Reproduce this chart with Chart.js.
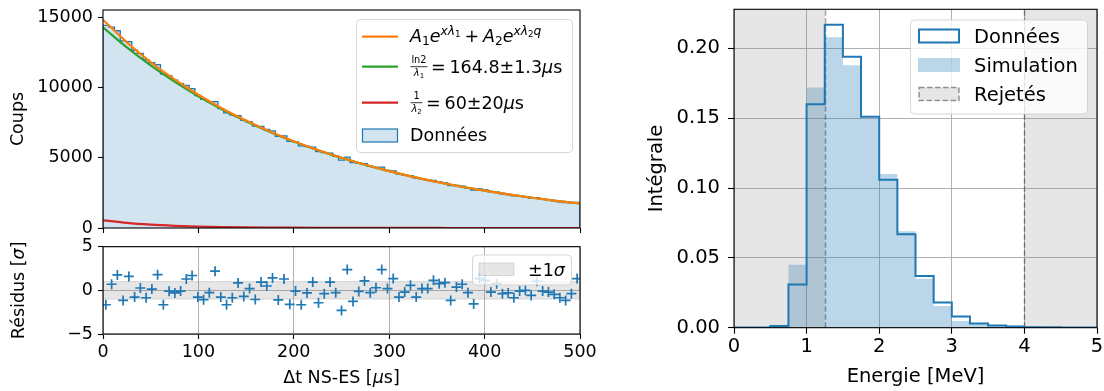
<!DOCTYPE html>
<html>
<head>
<meta charset="utf-8">
<script src="https://cdn.jsdelivr.net/npm/chart.js@4.4.1/dist/chart.umd.min.js"></script>
<style>
  html, body { margin: 0; padding: 0; background: #fff; }
  #wrap { position: relative; width: 1104px; height: 391px; overflow: hidden; }
  canvas { position: absolute; }
</style>
</head>
<body>
<div id="wrap">
  <canvas id="decay"  width="600" height="236" style="left:0;top:0"></canvas>
  <canvas id="resid"  width="600" height="153" style="left:0;top:238px"></canvas>
  <canvas id="energy" width="484" height="391" style="left:620px;top:0"></canvas>
</div>
<script>
// ── Data ─────────────────────────────────────
const T_MAX = 500;            // µs, histogram range
const counts = [
  14443, 14323, 14060, 13341, 13292, 12670, 12445, 11992, 11780, 11646,
  10978, 10849, 10545, 10292, 10162, 9940, 9445, 9171, 9010, 9010,
  8507, 8208, 8068, 8013, 7673, 7556, 7257, 7240, 7021, 6919,
  6540, 6567, 6172, 6134, 5857, 5811, 5759, 5438, 5376, 5336,
  5116, 4844, 5047, 4670, 4630, 4595, 4390, 4318, 4344, 4098,
  4068, 3834, 3773, 3725, 3551, 3519, 3432, 3399, 3294, 3219,
  3025, 3033, 2975, 2849, 2709, 2791, 2712, 2577, 2561, 2440,
  2382, 2296, 2275, 2222, 2139, 2160, 2055, 1999, 1938, 1872,
  1811, 1798, 1826,
];
const residuals = [
  -1.65, 0.7, 1.77, -1.15, 1.6, -0.77, 0.27, -0.85, 0.15, 1.8,
  -1.65, -0.1, -0.3, -0.08, 1.3, 1.7, -0.77, -1.07, -0.27, 2.2,
  -0.77, -1.65, -0.85, 0.85, -0.7, 0.2, -1.05, 0.95, 0.5, 1.42,
  -1.1, 1.3, -1.6, -0.08, -1.65, -0.3, 0.95, -1.42, -0.38, 0.95,
  -0.27, -2.3, 2.38, -1.27, -0.12, 1.08, -0.27, 0.3, 2.38, 0.2,
  1.35, -0.77, -0.2, 0.58, -0.77, 0.2, 0.2, 1.15, 0.77, 0.88,
  -1.15, 0.38, 0.7, -0.27, -1.55, 1.35, 1.15, -0.2, 0.77, -0.38,
  -0.3, -0.85, -0.08, 0, -0.58, 1.04, -0.08, -0.2, -0.46, -0.85,
  -1.15, -0.38, 1.35,
];
const fitT    = [0, 25, 50, 75, 100, 125, 150, 175, 200, 225, 250, 275, 300, 325, 350, 375, 400, 425, 450, 475, 500];
const fitSum  = [14850, 13236, 11828, 10590, 9495, 8522, 7655, 6881, 6187, 5565, 5007, 4505, 4054, 3648, 3284, 2956, 2661, 2395, 2155, 1940, 1747];
const fitSlow = [14300, 12873, 11589, 10432, 9391, 8454, 7610, 6851, 6167, 5552, 4998, 4499, 4050, 3646, 3282, 2955, 2660, 2394, 2155, 1940, 1747];
const fitFast = [550, 363, 239, 158, 104, 68, 45, 30, 20, 13, 9, 6, 4, 2, 2, 1, 1, 0, 0, 0, 0];
const sigmaBand = [-1, 1];
const countTicks = [0, 5000, 10000, 15000];
const timeTicks  = [0, 100, 200, 300, 400, 500];
const residTicks = [-5, 0, 5];

const energyEdges = [0, 0.25, 0.5, 0.75, 1, 1.25, 1.5, 1.75, 2, 2.25, 2.5, 2.75, 3, 3.25, 3.5, 3.75, 4, 4.25, 4.5, 4.75, 5];
const dataFrac = [0.0002, 0.0002, 0.0012, 0.031, 0.160, 0.217, 0.194, 0.151, 0.106, 0.067, 0.037, 0.018, 0.008, 0.003, 0.0016, 0.0008, 0.0004, 0.0003, 0.0002, 0.0002];
const simFrac  = [0, 0, 0.0008, 0.045, 0.172, 0.208, 0.188, 0.150, 0.110, 0.069, 0.035, 0.0155, 0.0048, 0.0025, 0.0012, 0.0008, 0.0008, 0.0003, 0.0002, 0.0001];
const rejected = [[0, 1.25], [4.0, 5]];
const energyTicks = [0, 1, 2, 3, 4, 5];
const fracTicks   = [0, 0.05, 0.10, 0.15, 0.20];

// ── Styling ──────────────────────────────────
const BLUE = '#1f77b4', ORANGE = '#ff7f0e', GREEN = '#2ca02c', RED = '#d62728';
const GRID = '#b0b0b0';
const FS_L = 17.5, FS_R = 19.5;
const FONT = '"DejaVu Sans"';

Chart.defaults.font.family = FONT;
Chart.defaults.color = '#000';
Chart.defaults.animation = false;

// step outline from bin edges + values (each value covers the bin right of its edge)
function stepPoints(edges, vals, closeDown) {
  const pts = [{ x: edges[0], y: 0 }];
  vals.forEach((v, i) => pts.push({ x: edges[i], y: v }));
  pts.push({ x: edges[edges.length - 1], y: vals[vals.length - 1] });
  if (closeDown) pts.push({ x: edges[edges.length - 1], y: 0 });
  return pts;
}
const fixedTicks = list => s => { s.ticks = list.map(v => ({ value: v })); };

const tEdges = counts.map((_, i) => i * T_MAX / counts.length).concat([T_MAX]);
const tCenters = counts.map((_, i) => (i + 0.5) * T_MAX / counts.length);

// ── text helpers (mathtext-ish) ──────────────
function partsWidth(ctx, parts, fs) {
  let w = 0;
  for (const p of parts) {
    if (p.gap) { w += p.gap * fs; continue; }
    ctx.font = (p.it ? 'italic ' : '') + fs * (p.sc || 1) + 'px ' + FONT;
    w += ctx.measureText(p.t).width;
  }
  return w;
}
function rich(ctx, x, y, parts, fs) {
  let cx = x;
  ctx.textBaseline = 'alphabetic';
  ctx.textAlign = 'left';
  for (const p of parts) {
    if (p.gap) { cx += p.gap * fs; continue; }
    ctx.font = (p.it ? 'italic ' : '') + fs * (p.sc || 1) + 'px ' + FONT;
    ctx.fillText(p.t, cx, y + (p.dy || 0) * fs);
    cx += ctx.measureText(p.t).width;
  }
  return cx;
}
// centred label, optionally rotated (used for axis titles with italic symbols)
function richCentered(ctx, cx, cy, parts, fs, rot) {
  ctx.save();
  ctx.fillStyle = '#000';
  ctx.translate(cx, cy);
  if (rot) ctx.rotate(rot);
  const w = partsWidth(ctx, parts, fs);
  rich(ctx, -w / 2, 0.36 * fs, parts, fs);
  ctx.restore();
}
function frac(ctx, x, yBar, num, den, fs) {
  const wn = partsWidth(ctx, num, fs), wd = partsWidth(ctx, den, fs);
  const w = Math.max(wn, wd) + 0.1 * fs;
  ctx.save();
  ctx.strokeStyle = '#000'; ctx.lineWidth = 0.8;
  ctx.beginPath(); ctx.moveTo(x, yBar); ctx.lineTo(x + w, yBar); ctx.stroke();
  ctx.restore();
  rich(ctx, x + (w - wn) / 2, yBar - 0.22 * fs, num, fs);
  rich(ctx, x + (w - wd) / 2, yBar + 0.52 * fs, den, fs);
  return x + w;
}
function legendBox(ctx, x0, y0, x1, y1) {
  const r = 4;
  ctx.save();
  ctx.beginPath();
  ctx.moveTo(x0 + r, y0); ctx.lineTo(x1 - r, y0); ctx.quadraticCurveTo(x1, y0, x1, y0 + r);
  ctx.lineTo(x1, y1 - r); ctx.quadraticCurveTo(x1, y1, x1 - r, y1);
  ctx.lineTo(x0 + r, y1); ctx.quadraticCurveTo(x0, y1, x0, y1 - r);
  ctx.lineTo(x0, y0 + r); ctx.quadraticCurveTo(x0, y0, x0 + r, y0);
  ctx.closePath();
  ctx.fillStyle = 'rgba(255,255,255,0.8)'; ctx.fill();
  ctx.strokeStyle = 'rgba(204,204,204,0.8)'; ctx.lineWidth = 1; ctx.stroke();
  ctx.restore();
}

const framePlugin = {
  id: 'frame',
  afterDatasetsDraw(chart) {
    const { ctx, chartArea: a } = chart;
    ctx.save();
    ctx.strokeStyle = '#000'; ctx.lineWidth = 1.1;
    ctx.strokeRect(a.left, a.top, a.right - a.left, a.bottom - a.top);
    ctx.restore();
  },
};

function fixPad(s) { s.paddingTop = 0; s.paddingBottom = 0; s.paddingLeft = 0; s.paddingRight = 0; }
const tickGrid = (onArea, len) => ({
  drawOnChartArea: onArea, color: GRID, lineWidth: 1,
  drawTicks: true, tickLength: len, tickColor: '#000', tickWidth: 1.1,
});

// ── Decay histogram + fits ───────────────────
new Chart(document.getElementById('decay'), {
  type: 'line',
  data: {
    datasets: [
      { label: 'sum', data: fitT.map((t, i) => ({ x: t, y: fitSum[i] })), borderColor: ORANGE, borderWidth: 2.2, cubicInterpolationMode: 'monotone', order: 0 },
      { label: 'slow', data: fitT.map((t, i) => ({ x: t, y: fitSlow[i] })), borderColor: GREEN, borderWidth: 2.2, cubicInterpolationMode: 'monotone', order: 1 },
      { label: 'fast', data: fitT.map((t, i) => ({ x: t, y: fitFast[i] })), borderColor: RED, borderWidth: 2.2, cubicInterpolationMode: 'monotone', order: 2 },
      { label: 'Données', data: stepPoints(tEdges, counts, true), stepped: 'before', borderColor: BLUE, borderWidth: 1.3,
        backgroundColor: 'rgba(31,119,180,0.2)', fill: 'origin', order: 3 },
    ],
  },
  options: {
    responsive: false, events: [],
    layout: { padding: { top: 10, right: 20, left: 0, bottom: 0 } },
    elements: { point: { radius: 0 } },
    plugins: { legend: { display: false }, tooltip: { enabled: false } },
    scales: {
      x: {
        type: 'linear', min: 0, max: T_MAX,
        ticks: { display: false },
        afterBuildTicks: fixedTicks(timeTicks),
        grid: tickGrid(false, 5), border: { display: false },
        afterFit: s => { s.height = 8; fixPad(s); },
      },
      y: {
        min: 0, max: 15540,
        ticks: { padding: 5, font: { size: FS_L }, callback: v => String(v) },
        afterBuildTicks: fixedTicks(countTicks),
        grid: tickGrid(false, 5), border: { display: false },
        title: { display: true, text: 'Coups', font: { size: FS_L }, padding: { top: 7.5, bottom: 0 } },
        afterFit: s => { s.width = 103; fixPad(s); },
      },
    },
  },
  plugins: [framePlugin, {
    id: 'decayLegend',
    afterDraw(chart) {
      const ctx = chart.ctx, fs = FS_L;
      legendBox(ctx, 356.5, 19.5, 572.5, 152.5);
      ctx.save();
      [[ORANGE, 36.7], [GREEN, 66.7], [RED, 102.7]].forEach(([c, y]) => {
        ctx.strokeStyle = c; ctx.lineWidth = 2.2;
        ctx.beginPath(); ctx.moveTo(362, y); ctx.lineTo(398, y); ctx.stroke();
      });
      ctx.fillStyle = 'rgba(31,119,180,0.2)';
      ctx.fillRect(362.5, 129, 35, 13);
      ctx.strokeStyle = BLUE; ctx.lineWidth = 1.2;
      ctx.strokeRect(362.5, 129, 35, 13);
      ctx.fillStyle = '#000';
      const sub = t => ({ t, sc: 0.7, dy: 0.18 });
      const sup = (t, it) => ({ t, it, sc: 0.7, dy: -0.42 });
      const supsub = t => ({ t, sc: 0.5, dy: -0.3 });
      rich(ctx, 410, 42, [
        { t: 'A', it: true }, sub('1'), { t: 'e', it: true }, sup('x', true), sup('λ', true), supsub('1'),
        { gap: 0.22 }, { t: '+' }, { gap: 0.22 },
        { t: 'A', it: true }, sub('2'), { t: 'e', it: true }, sup('x', true), sup('λ', true), supsub('2'), sup('q', true),
      ], fs);
      let x = frac(ctx, 410.5, 66.7, [{ t: 'ln2', sc: 0.56 }], [{ t: 'λ', it: true, sc: 0.56 }, { t: '1', sc: 0.4, dy: 0.1 }], fs);
      rich(ctx, x + 0.2 * fs, 72.7, [{ t: '=' }, { gap: 0.22 }, { t: '164.8±1.3' }, { t: 'μ', it: true }, { t: 's' }], fs);
      x = frac(ctx, 410.5, 102.7, [{ t: '1', sc: 0.56 }], [{ t: 'λ', it: true, sc: 0.56 }, { t: '2', sc: 0.4, dy: 0.1 }], fs);
      rich(ctx, x + 0.2 * fs, 108.7, [{ t: '=' }, { gap: 0.22 }, { t: '60±20' }, { t: 'μ', it: true }, { t: 's' }], fs);
      rich(ctx, 410, 141, [{ t: 'Données' }], fs);
      ctx.restore();
    },
  }],
});

// ── Residuals ────────────────────────────────
new Chart(document.getElementById('resid'), {
  type: 'line',
  data: {
    datasets: [
      { label: 'res', data: tCenters.map((t, i) => ({ x: t, y: residuals[i] })), showLine: false,
        pointStyle: 'cross', pointRadius: 5, pointBorderWidth: 1.7, pointBorderColor: BLUE, borderColor: BLUE, order: 0 },
      { label: 'up', data: [{ x: 0, y: sigmaBand[1] }, { x: T_MAX, y: sigmaBand[1] }], fill: '+1',
        borderColor: 'rgba(128,128,128,0.25)', borderWidth: 1, backgroundColor: 'rgba(128,128,128,0.2)', pointRadius: 0, order: 1 },
      { label: 'down', data: [{ x: 0, y: sigmaBand[0] }, { x: T_MAX, y: sigmaBand[0] }],
        borderColor: 'rgba(128,128,128,0.25)', borderWidth: 1, pointRadius: 0, order: 2 },
    ],
  },
  options: {
    responsive: false, events: [],
    layout: { padding: { top: 8.7, right: 20, left: 0, bottom: 0 } },
    plugins: { legend: { display: false }, tooltip: { enabled: false } },
    scales: {
      x: {
        type: 'linear', min: 0, max: T_MAX,
        ticks: { padding: 2.5, font: { size: FS_L }, maxRotation: 0, callback: v => String(v) },
        afterBuildTicks: fixedTicks(timeTicks),
        grid: tickGrid(true, 5), border: { display: false },
        afterFit: s => { s.height = 57; fixPad(s); },
      },
      y: {
        min: -5, max: 5,
        ticks: { padding: 5, font: { size: FS_L }, callback: v => (v < 0 ? '\u2212' + Math.abs(v) : String(v)) },
        afterBuildTicks: fixedTicks(residTicks),
        grid: tickGrid(true, 5), border: { display: false },
        afterFit: s => { s.width = 103; fixPad(s); },
      },
    },
  },
  plugins: [framePlugin, {
    id: 'residLegend',
    afterDraw(chart) {
      const ctx = chart.ctx, a = chart.chartArea;
      legendBox(ctx, 472.5, 17, 571.5, 47);
      ctx.save();
      ctx.fillStyle = 'rgba(128,128,128,0.2)';
      ctx.fillRect(479, 25, 35, 12.5);
      ctx.strokeStyle = 'rgba(128,128,128,0.25)'; ctx.lineWidth = 1;
      ctx.strokeRect(479, 25, 35, 12.5);
      ctx.fillStyle = '#000';
      rich(ctx, 528, 38, [{ t: '±1' }, { t: 'σ', it: true }], FS_L);
      ctx.restore();
      // axis titles (italic Greek like mathtext)
      richCentered(ctx, (a.left + a.right) / 2, 139, [{ t: 'Δt NS-ES [' }, { t: 'μ', it: true }, { t: 's]' }], FS_L);
      richCentered(ctx, 18, (a.top + a.bottom) / 2, [{ t: 'Résidus [' }, { t: 'σ', it: true }, { t: ']' }], FS_L, -Math.PI / 2);
    },
  }],
});

// ── Energy spectrum ──────────────────────────
new Chart(document.getElementById('energy'), {
  type: 'line',
  data: {
    datasets: [
      { label: 'Simulation', data: stepPoints(energyEdges, simFrac, true), stepped: 'before', borderWidth: 0,
        borderColor: 'rgba(0,0,0,0)', backgroundColor: 'rgba(31,119,180,0.3)', fill: 'origin', order: 2 },
      { label: 'Données', data: stepPoints(energyEdges, dataFrac, false), stepped: 'before', borderColor: BLUE,
        borderWidth: 2, fill: false, order: 0 },
    ],
  },
  options: {
    responsive: false, events: [],
    layout: { padding: { top: 9.3, right: 7, left: 0, bottom: 0 } },
    elements: { point: { radius: 0 } },
    plugins: { legend: { display: false }, tooltip: { enabled: false } },
    scales: {
      x: {
        type: 'linear', min: 0, max: 5,
        ticks: { padding: 2, font: { size: FS_R }, maxRotation: 0, callback: v => String(v) },
        afterBuildTicks: fixedTicks(energyTicks),
        grid: tickGrid(true, 6), border: { display: false },
        title: { display: true, text: 'Energie [MeV]', font: { size: FS_R }, padding: { top: 0, bottom: 2.3 } },
        afterFit: s => { s.height = 63.3; fixPad(s); },
      },
      y: {
        min: 0, max: 0.228,
        ticks: { padding: 8, font: { size: FS_R }, callback: v => v.toFixed(2) },
        afterBuildTicks: fixedTicks(fracTicks),
        grid: tickGrid(true, 6), border: { display: false },
        title: { display: true, text: 'Intégrale', font: { size: FS_R }, padding: { top: 25, bottom: 0 } },
        afterFit: s => { s.width = 114; fixPad(s); },
      },
    },
  },
  plugins: [framePlugin, {
    id: 'rejectSpan',
    afterDatasetDraw(chart, args) {
      if (chart.data.datasets[args.index].label !== 'Simulation') return;
      const { ctx, chartArea: a, scales: { x } } = chart;
      ctx.save();
      rejected.forEach(([lo, hi]) => {
        const x0 = x.getPixelForValue(lo), x1 = x.getPixelForValue(hi);
        ctx.fillStyle = 'rgba(128,128,128,0.2)';
        ctx.fillRect(x0, a.top, x1 - x0, a.bottom - a.top);
      });
      ctx.strokeStyle = 'rgba(0,0,0,0.36)'; ctx.lineWidth = 1.5; ctx.setLineDash([5.5, 2.5]);
      [rejected[0][1], rejected[1][0]].forEach(v => {
        const px = Math.round(x.getPixelForValue(v)) + 0.5;
        ctx.beginPath(); ctx.moveTo(px, a.bottom); ctx.lineTo(px, a.top); ctx.stroke();
      });
      ctx.restore();
    },
    afterDraw(chart) {
      const ctx = chart.ctx;
      legendBox(ctx, 290.5, 20, 467.5, 114);
      ctx.save();
      ctx.fillStyle = '#fff'; ctx.fillRect(299, 29.5, 40, 13);
      ctx.strokeStyle = BLUE; ctx.lineWidth = 2; ctx.strokeRect(299, 29.5, 40, 13);
      ctx.fillStyle = 'rgba(31,119,180,0.3)'; ctx.fillRect(298, 58, 42, 14);
      ctx.fillStyle = '#e6e6e6'; ctx.fillRect(299, 87.5, 40, 13);
      ctx.strokeStyle = 'rgba(0,0,0,0.4)'; ctx.lineWidth = 1.5; ctx.setLineDash([5.5, 2.5]);
      ctx.strokeRect(299, 87.5, 40, 13);
      ctx.setLineDash([]);
      ctx.fillStyle = '#000';
      rich(ctx, 354, 43, [{ t: 'Données' }], FS_R);
      rich(ctx, 354, 72, [{ t: 'Simulation' }], FS_R);
      rich(ctx, 354, 101, [{ t: 'Rejetés' }], FS_R);
      ctx.restore();
    },
  }],
});
</script>
</body>
</html>
